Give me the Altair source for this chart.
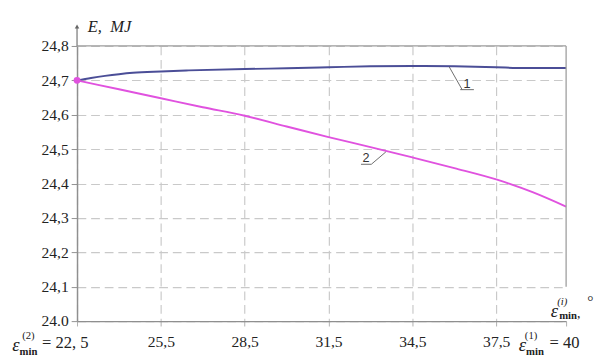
import altair as alt
import pandas as pd

# ---- data ----
x_blue = [22.5, 23.0, 23.5, 24.0, 24.5, 25.5, 26.5, 28.5, 30.0, 31.5, 33.0, 34.5, 36.0, 37.5, 38.5, 40.0]
e_blue = [24.700, 24.707, 24.713, 24.718, 24.722, 24.726, 24.729, 24.733, 24.735, 24.738, 24.741, 24.742, 24.741, 24.738, 24.736, 24.736]

x_mag = [22.5, 24.0, 25.5, 27.0, 28.5, 30.0, 31.5, 33.0, 34.5, 36.0, 37.5, 38.8, 40.0]
e_mag = [24.700, 24.674, 24.648, 24.622, 24.597, 24.566, 24.535, 24.506, 24.476, 24.445, 24.412, 24.375, 24.333]

x_tick_values = [22.5, 25.5, 28.5, 31.5, 34.5, 37.5, 40.0]
x_tick_labels = ["", "25,5", "28,5", "31,5", "34,5", "37,5", ""]
y_tick_values = [24.0, 24.1, 24.2, 24.3, 24.4, 24.5, 24.6, 24.7, 24.8]
y_tick_labels = ["24.0", "24,1", "24,2", "24,3", "24,4", "24,5", "24,6", "24,7", "24,8"]

curve_names = ["1", "2"]
leader_x = [35.82, 33.55]
leader_y = [24.739, 24.492]
leader_x2 = [36.28, 33.03]
leader_y2 = [24.673, 24.456]
under_x = [36.21, 32.66]
under_x2 = [36.70, 33.03]
label_x = [36.45, 32.84]
label_y = [24.690, 24.473]

W, H = 503, 283
BLUE = "#4b4e97"
MAG = "#e052df"
GRAY = "#8f8f8f"
SERIF = "Liberation Serif"


def label_expr(values, labels):
    expr = "''"
    for v, l in zip(values, labels):
        expr = f"(abs(datum.value - {v}) < 1e-6 ? '{l}' : {expr})"
    return expr


blue_df = pd.DataFrame({"x": x_blue, "e": e_blue})
mag_df = pd.DataFrame({"x": x_mag, "e": e_mag})

x_enc = alt.X(
    "x:Q",
    scale=alt.Scale(domain=[22.5, 40], nice=False, zero=False),
    axis=alt.Axis(
        values=x_tick_values,
        labelExpr=label_expr(x_tick_values, x_tick_labels),
        title=None,
        grid=True,
        gridDash=[9, 5],
        gridColor="#c9c9c9",
        gridWidth=1.2,
        gridOpacity={"condition": {"test": "datum.value >= 39.9", "value": 0}, "value": 1},
        domainColor=GRAY,
        domainWidth=1.5,
        tickColor="#b0b0b0",
        tickSize=5,
        labelFont=SERIF,
        labelFontSize=16,
        labelColor="#222222",
        labelPadding=8,
        labelOverlap=False,
        labelFlush=False,
    ),
)
y_enc = alt.Y(
    "e:Q",
    scale=alt.Scale(domain=[24.0, 24.8], nice=False, zero=False),
    axis=alt.Axis(
        values=y_tick_values,
        labelExpr=label_expr(y_tick_values, y_tick_labels),
        title=None,
        grid=True,
        gridDash=[9, 5],
        gridColor="#c9c9c9",
        gridWidth=1.2,
        domainColor=GRAY,
        domainWidth=1.5,
        tickColor=GRAY,
        tickSize=6,
        labelFont=SERIF,
        labelFontSize=16,
        labelColor="#222222",
        labelPadding=3,
        labelOverlap=False,
        labelFlush=False,
    ),
)

one = pd.DataFrame({"a": [0]})

blue_line = alt.Chart(blue_df).mark_line(color=BLUE, strokeWidth=2, interpolate="monotone").encode(x=x_enc, y=y_enc)
mag_line = alt.Chart(mag_df).mark_line(color=MAG, strokeWidth=2, interpolate="monotone").encode(x=x_enc, y=y_enc)
start_dot = alt.Chart(mag_df.head(1)).mark_point(filled=True, size=50, color=MAG, opacity=1).encode(x=x_enc, y=y_enc)

top_rule = alt.Chart(one).mark_rule(color="#9c9c9c", strokeWidth=1.3).encode(
    x=alt.value(0), x2=alt.value(W), y=alt.value(0))
right_df = pd.DataFrame({"x": [40.0], "e": [24.8], "e2": [24.1]})
right_rule = alt.Chart(right_df).mark_rule(color="#9c9c9c", strokeWidth=1.3).encode(
    x=x_enc, y=y_enc, y2="e2:Q")
arrow_stem = alt.Chart(one).mark_rule(color=GRAY, strokeWidth=1.5).encode(
    x=alt.value(0), y=alt.value(-20), y2=alt.value(0))
arrow_head = alt.Chart(one).mark_point(shape="triangle-up", filled=True, size=22, color="#666666", opacity=1).encode(
    x=alt.value(0), y=alt.value(-20))

leader_df = pd.DataFrame({"x": leader_x, "e": leader_y, "x2": leader_x2, "e2": leader_y2})
under_df = pd.DataFrame({"x": under_x, "x2": under_x2, "e": leader_y2})
num_df = pd.DataFrame({"name": curve_names, "x": label_x, "e": label_y})

leaders = alt.Chart(leader_df).mark_rule(color="#6a6a6a", strokeWidth=1).encode(
    x=x_enc, y=y_enc, x2="x2:Q", y2="e2:Q")
underlines = alt.Chart(under_df).mark_rule(color="#6a6a6a", strokeWidth=1).encode(
    x=x_enc, x2="x2:Q", y=y_enc)
numbers = alt.Chart(num_df).mark_text(font="Liberation Sans", fontSize=13, color="#333333", baseline="middle").encode(
    x=x_enc, y=y_enc, text="name:N")


def txt(s, px, py, size, style="normal", align="center", weight="normal"):
    return alt.Chart(one).mark_text(
        font=SERIF, fontSize=size, fontStyle=style, fontWeight=weight, color="#222222",
        align=align, baseline="middle",
    ).encode(x=alt.value(px), y=alt.value(py), text=alt.value(s))


texts = [
    # y-axis title
    txt("E,\u00a0\u00a0MJ", 11, -19, 17, style="italic", align="left"),
    # left end label
    txt("ε", -63, 308, 19, style="italic"),
    txt("(2)", -50, 298, 11),
    txt("min", -50, 315, 11, weight="bold"),
    txt("= 22,\u00a05", -36, 306, 17, align="left"),
    # right end label
    txt("ε", 458, 308, 19, style="italic"),
    txt("(1)", 467, 298, 11),
    txt("min", 471, 315, 11, weight="bold"),
    txt("=\u00a040", 486, 306, 17, align="left"),
    # x-axis title
    txt("ε", 491, 273, 19, style="italic"),
    txt("(i)", 499, 263, 11, style="italic"),
    txt("min", 505, 278, 11, weight="bold"),
    txt(",", 516, 276, 14),
    txt("°", 528, 262, 16),
]

chart = alt.layer(
    blue_line, mag_line, top_rule, right_rule, arrow_stem, arrow_head,
    leaders, underlines, numbers, start_dot, *texts,
).properties(
    width=W, height=H,
    padding={"left": 71, "top": 34, "right": 40, "bottom": 38},
    autosize=alt.AutoSizeParams(type="none"),
    background="white",
).configure_view(stroke=None)

chart.save("out.html", embed_options={"renderer": "svg", "actions": False})
